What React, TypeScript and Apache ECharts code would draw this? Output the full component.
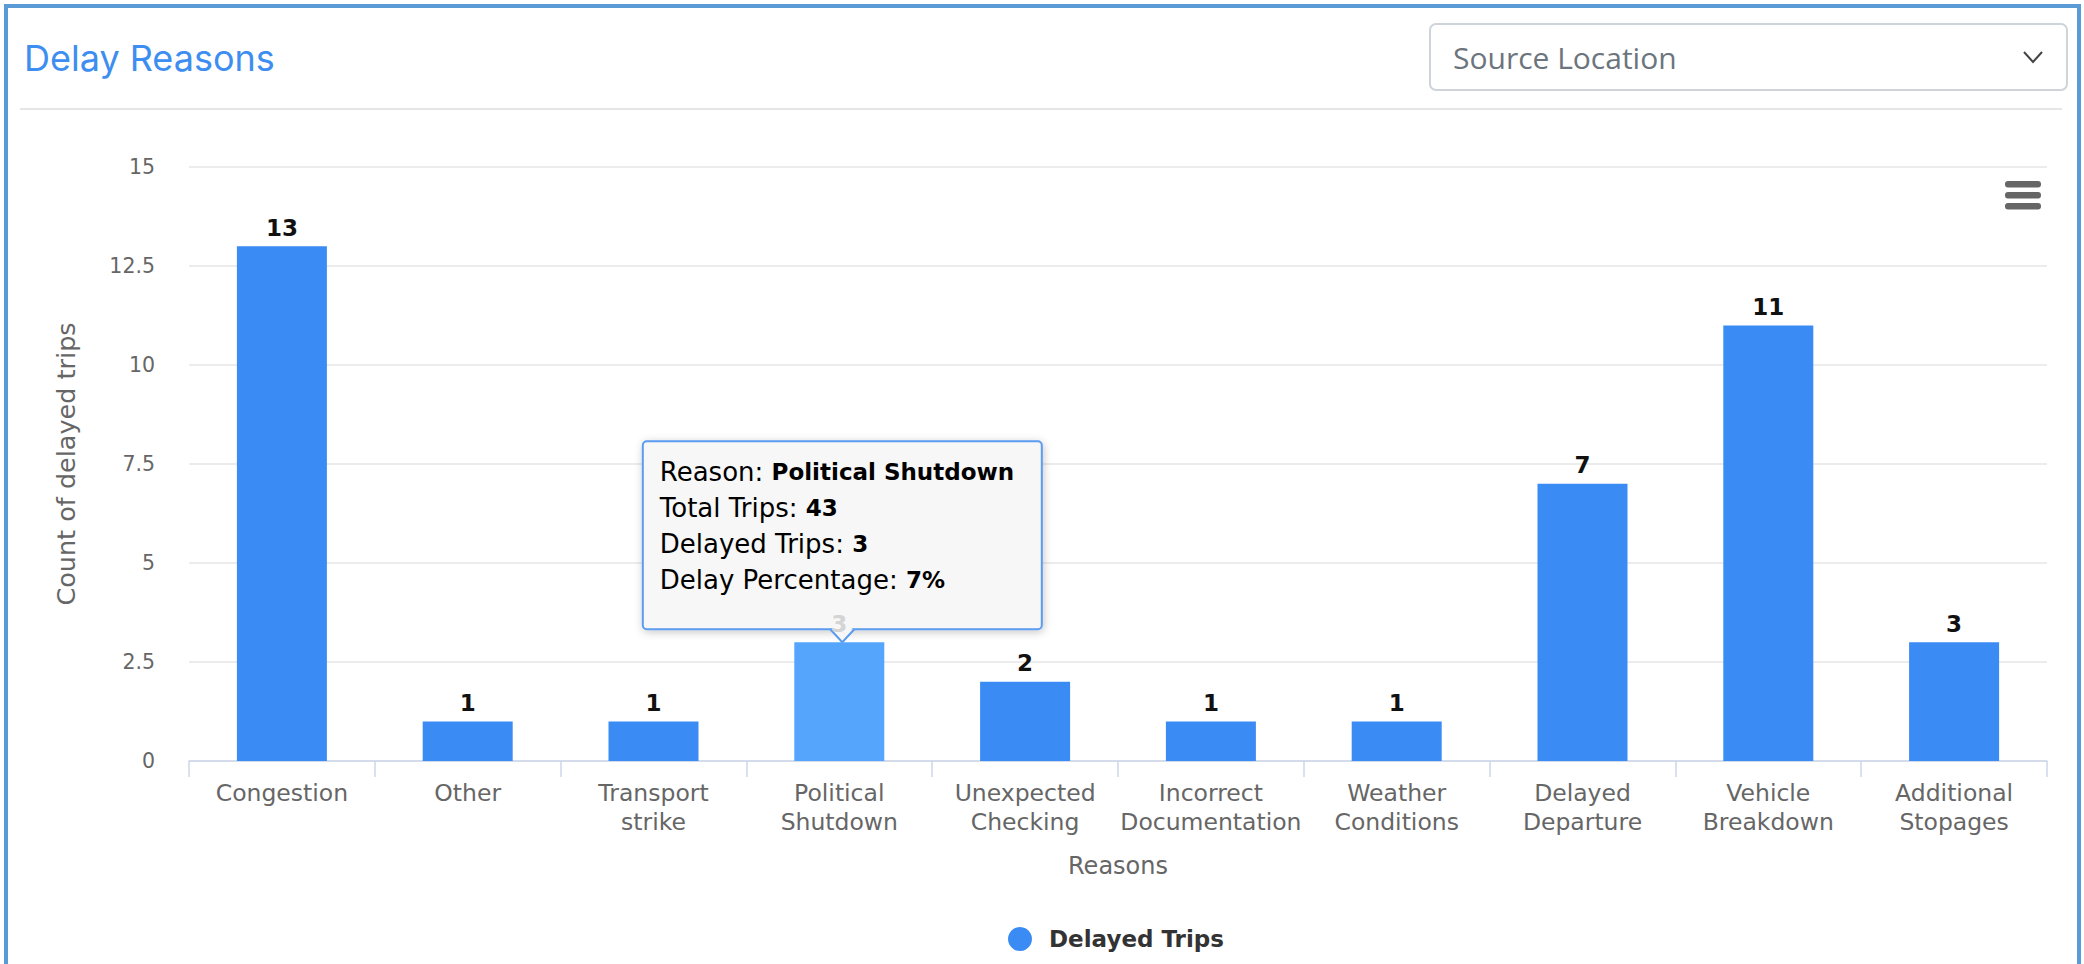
import React, { useEffect, useRef } from "react";
import * as echarts from "echarts";

const categories = [
  "Congestion",
  "Other",
  "Transport strike",
  "Political Shutdown",
  "Unexpected Checking",
  "Incorrect Documentation",
  "Weather Conditions",
  "Delayed Departure",
  "Vehicle Breakdown",
  "Additional Stopages",
];
const delayedTrips = [13, 1, 1, 3, 2, 1, 1, 7, 11, 3];
const yTicks = [0, 2.5, 5, 7.5, 10, 12.5, 15];
const hoveredIndex = 3;
const hoveredTotalTrips = 43;
const hoveredDelayPercentage = "7%";

const BAR = "#3b8bf4";
const BAR_HOVER = "#55a5fd";
const FONT = "DejaVu Sans";

export default function App() {
  const ref = useRef<HTMLDivElement>(null);
  useEffect(() => {
    if (!ref.current) return;
    const chart = echarts.init(ref.current, undefined, { renderer: "svg" });
    const option: any = {
      animation: false,
      grid: { left: 189, right: 37, top: 167, bottom: 203 },
      legend: {
        bottom: 8,
        left: 1003,
        icon: "circle",
        itemWidth: 24,
        itemHeight: 24,
        itemGap: 10,
        textStyle: {
          fontFamily: FONT,
          fontSize: 23,
          fontWeight: "bold",
          color: "#333",
          padding: [0, 0, 0, 12],
        },
        data: ["Delayed Trips"],
      },
      xAxis: {
        type: "category",
        data: categories,
        name: "Reasons",
        nameLocation: "middle",
        nameGap: 93,
        nameTextStyle: { fontFamily: FONT, fontSize: 24, color: "#666" },
        axisLine: { lineStyle: { color: "#ccd6eb", width: 1.5 } },
        axisTick: { show: true, length: 16, lineStyle: { color: "#ccd6eb", width: 1.5 } },
        axisLabel: {
          interval: 0,
          fontFamily: FONT,
          fontSize: 23.5,
          lineHeight: 29,
          color: "#666",
          margin: 17,
          formatter: (v: string) => v.replace(" ", "\n"),
        },
      },
      yAxis: {
        type: "value",
        min: yTicks[0],
        max: yTicks[yTicks.length - 1],
        interval: yTicks[1] - yTicks[0],
        name: "Count of delayed trips",
        nameLocation: "middle",
        nameGap: 110,
        nameTextStyle: { fontFamily: FONT, fontSize: 25.5, color: "#666" },
        axisLabel: { fontFamily: FONT, fontSize: 20.5, color: "#666", margin: 34 },
        splitLine: { lineStyle: { color: "#e6e6e6", width: 1.5 } },
        axisLine: { show: false },
        axisTick: { show: false },
      },
      series: [
        {
          name: "Delayed Trips",
          type: "bar",
          barWidth: 90,
          itemStyle: { color: BAR },
          label: {
            show: true,
            position: "top",
            distance: 7,
            fontFamily: FONT,
            fontSize: 23,
            fontWeight: "bold",
            color: "#111",
          },
          data: delayedTrips.map((v, i) =>
            i === hoveredIndex
              ? { value: v, itemStyle: { color: BAR_HOVER }, label: { color: "#d4d4d4" } }
              : v
          ),
        },
      ],
    };
    chart.setOption(option);

    const [px, py] = chart.convertToPixel({ xAxisIndex: 0, yAxisIndex: 0 }, [
      hoveredIndex,
      delayedTrips[hoveredIndex],
    ]) as number[];
    const boxW = 399;
    const boxH = 188;
    const arrowH = 13;
    const cx = px + 3;
    const bottom = py - arrowH;
    const left = cx - boxW / 2;
    const top = bottom - boxH;

    const graphic: any[] = [
      {
        type: "rect",
        shape: { x: 6, y: 6, width: 2073, height: 1100 },
        style: { fill: "none", stroke: "#5b9bd5", lineWidth: 4 },
        z: 0,
        silent: true,
      },
      {
        type: "text",
        style: {
          text: "Delay Reasons",
          x: 24,
          y: 58,
          verticalAlign: "middle",
          fontFamily: "Inter",
          fontSize: 36,
          fill: "#3d8ef0",
        },
      },
      {
        type: "rect",
        shape: { x: 1430, y: 24, width: 637, height: 66, r: 6 },
        style: { fill: "#fff", stroke: "#ced4da", lineWidth: 2 },
      },
      {
        type: "text",
        style: {
          text: "Source Location",
          x: 1453,
          y: 57,
          verticalAlign: "middle",
          fontFamily: "Open Sans",
          fontSize: 30,
          fill: "#6c757d",
        },
      },
      {
        type: "polyline",
        shape: { points: [[2024, 52], [2033, 62], [2042, 52]] },
        style: { stroke: "#444", lineWidth: 2, fill: "none" },
      },
      {
        type: "line",
        shape: { x1: 20, y1: 109, x2: 2062, y2: 109 },
        style: { stroke: "#e6e6e6", lineWidth: 2 },
      },
      ...[181, 192, 203].map((y) => ({
        type: "rect",
        shape: { x: 2005, y, width: 36, height: 6.5, r: 3 },
        style: { fill: "#666" },
      })),
      {
        type: "group",
        z: 100,
        children: [
          {
            type: "rect",
            shape: { x: left, y: top, width: boxW, height: boxH, r: 4 },
            style: {
              fill: "#f7f7f7",
              stroke: "#5b9bef",
              lineWidth: 2,
              shadowBlur: 8,
              shadowColor: "rgba(0,0,0,0.22)",
              shadowOffsetX: 1,
              shadowOffsetY: 2,
            },
          },
          {
            type: "polyline",
            shape: { points: [[cx - 12, bottom], [cx, bottom + arrowH], [cx + 12, bottom]] },
            style: { stroke: "#5b9bef", lineWidth: 2, fill: "#f7f7f7" },
          },
          {
            type: "polygon",
            shape: { points: [[cx - 10.5, bottom - 1.5], [cx, bottom + arrowH - 2], [cx + 10.5, bottom - 1.5]] },
            style: { fill: "#f7f7f7" },
          },
          {
            type: "text",
            style: {
              x: left + 17,
              y: top + 13,
              verticalAlign: "top",
              text:
                "{n|Reason: }{b|" + categories[hoveredIndex] + "}\n" +
                "{n|Total Trips: }{b|" + hoveredTotalTrips + "}\n" +
                "{n|Delayed Trips: }{b|" + delayedTrips[hoveredIndex] + "}\n" +
                "{n|Delay Percentage: }{b|" + hoveredDelayPercentage + "}",
              rich: {
                n: { fontFamily: FONT, fontSize: 26, color: "#333", lineHeight: 36 },
                b: { fontFamily: FONT, fontSize: 23, fontWeight: "bold", color: "#333", lineHeight: 36 },
              },
            },
          },
        ],
      },
    ];
    chart.setOption({ graphic });
    return () => chart.dispose();
  }, []);
  return (
    <div
      ref={ref}
      style={{ position: "absolute", left: 0, top: 0, width: 2084, height: 964, background: "#fff" }}
    />
  );
}
